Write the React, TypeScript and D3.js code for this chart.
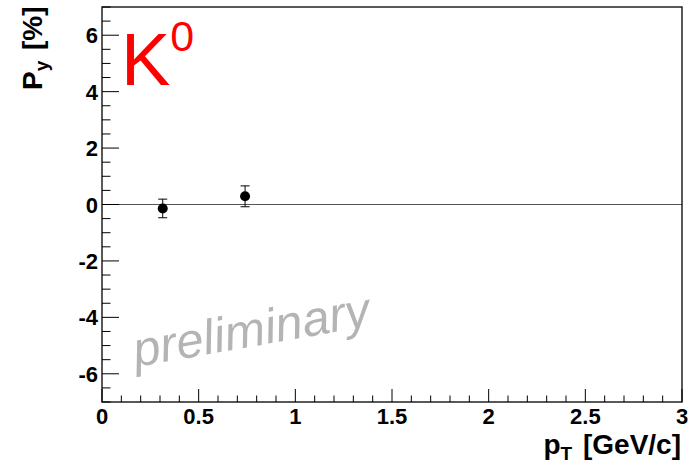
import React from "react";
import * as d3 from "d3";

const pT = [0.314, 0.74];
const Py = [-0.14, 0.29];
const PyErr = [0.33, 0.37];

const xMajorTicks = [0, 0.5, 1, 1.5, 2, 2.5, 3];
const xTickLabels = ["0", "0.5", "1", "1.5", "2", "2.5", "3"];
const yMajorTicks = [-6, -4, -2, 0, 2, 4, 6];
const yTickLabels = ["-6", "-4", "-2", "0", "2", "4", "6"];
const xDomain = [0, 3];
const yDomain = [-7, 7];

const W = 693;
const H = 469;
const L = 102, R = 682, T = 7, B = 402;

export default function App() {
  const x = d3.scaleLinear().domain(xDomain).range([L, R]);
  const y = d3.scaleLinear().domain(yDomain).range([B, T]);
  const xMinor = d3.range(0, 3.0001, 0.1).filter((v) => Math.abs(v * 2 - Math.round(v * 2)) > 1e-6);
  const yMinor = d3.range(-7, 7.0001, 0.5).filter((v) => Math.abs(v / 2 - Math.round(v / 2)) > 1e-6);
  const font = "'Liberation Sans', Arial, sans-serif";
  return (
    <svg width={W} height={H} style={{ position: "absolute", left: 0, top: 0, background: "#fff" }}>
      <rect x={0} y={0} width={W} height={H} fill="#fff" />
      {/* zero line */}
      <line x1={L} x2={R} y1={y(0)} y2={y(0)} stroke="#555" strokeWidth={1} />
      {/* frame */}
      <rect x={L} y={T} width={R - L} height={B - T} fill="none" stroke="#000" strokeWidth={1.3} />
      {/* x ticks */}
      {xMajorTicks.map((v) => (
        <line key={"xM" + v} x1={x(v)} x2={x(v)} y1={B} y2={B - 13} stroke="#000" strokeWidth={1} />
      ))}
      {xMinor.map((v) => (
        <line key={"xm" + v} x1={x(v)} x2={x(v)} y1={B} y2={B - 6.5} stroke="#000" strokeWidth={1} />
      ))}
      {xMajorTicks.map((v, i) => (
        <text key={"xl" + v} x={x(v)} y={424} textAnchor="middle" fontFamily={font} fontWeight="bold" fontSize={22} fill="#000">
          {xTickLabels[i]}
        </text>
      ))}
      {/* y ticks */}
      {yMajorTicks.map((v) => (
        <line key={"yM" + v} x1={L} x2={L + 17} y1={y(v)} y2={y(v)} stroke="#000" strokeWidth={1} />
      ))}
      {yMinor.map((v) => (
        <line key={"ym" + v} x1={L} x2={L + 8.5} y1={y(v)} y2={y(v)} stroke="#000" strokeWidth={1} />
      ))}
      {yMajorTicks.map((v, i) => (
        <text key={"yl" + v} x={98} y={y(v) + 8} textAnchor="end" fontFamily={font} fontWeight="bold" fontSize={22} fill="#000">
          {yTickLabels[i]}
        </text>
      ))}
      {/* axis titles */}
      <text x={681} y={454} textAnchor="end" fontFamily={font} fontWeight="bold" fontSize={28} fill="#000">
        p<tspan fontSize={19} dy={6}>T</tspan>
        <tspan dy={-6} dx={3}> [GeV/c]</tspan>
      </text>
      <text transform="translate(42,90) rotate(-90)" textAnchor="start" fontFamily={font} fontWeight="bold" fontSize={28} fill="#000">
        P<tspan fontSize={19} dy={6}>y</tspan>
        <tspan dy={-6} dx={3}> [%]</tspan>
      </text>
      {/* K0 label */}
      <text x={121} y={85} fontFamily={font} fontSize={74} fill="#ff0000">
        K<tspan fontSize={43} dy={-34}>0</tspan>
      </text>
      {/* preliminary */}
      <text transform="translate(136,367) rotate(-10)" fontFamily={font} fontStyle="italic" fontSize={49} fill="#b4b4b4">
        preliminary
      </text>
      {/* data points */}
      {pT.map((p, i) => (
        <g key={"pt" + i}>
          <line x1={x(p)} x2={x(p)} y1={y(Py[i] - PyErr[i])} y2={y(Py[i] + PyErr[i])} stroke="#000" strokeWidth={1} />
          <line x1={x(p) - 4.5} x2={x(p) + 4.5} y1={y(Py[i] - PyErr[i])} y2={y(Py[i] - PyErr[i])} stroke="#000" strokeWidth={1} />
          <line x1={x(p) - 4.5} x2={x(p) + 4.5} y1={y(Py[i] + PyErr[i])} y2={y(Py[i] + PyErr[i])} stroke="#000" strokeWidth={1} />
          <circle cx={x(p)} cy={y(Py[i])} r={5} fill="#000" />
        </g>
      ))}
    </svg>
  );
}
